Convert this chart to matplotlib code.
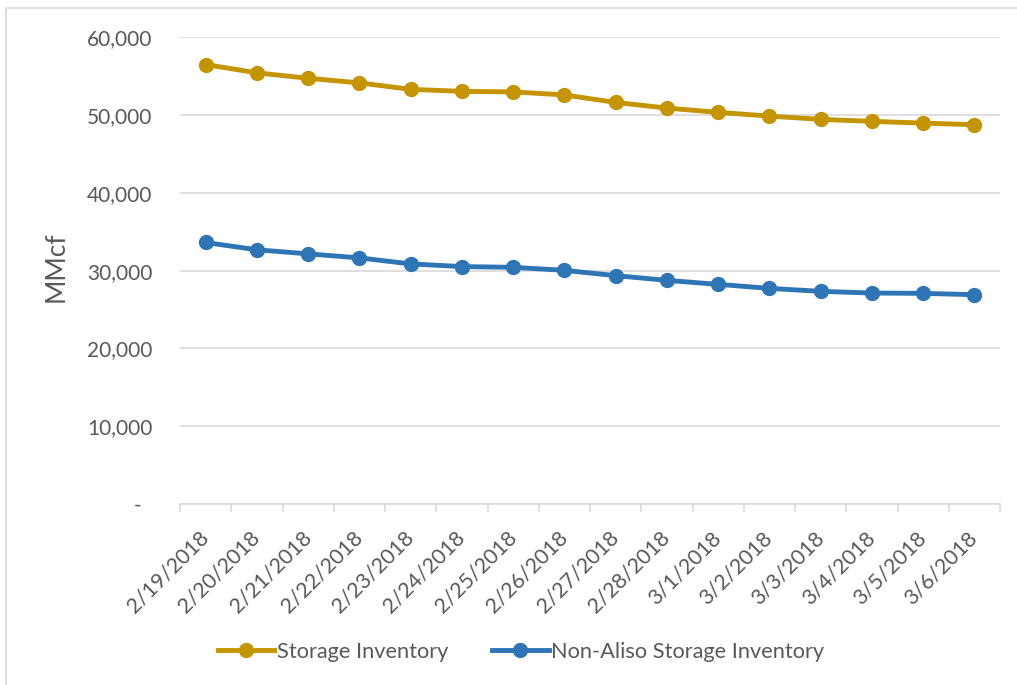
import matplotlib
matplotlib.use("Agg")
import matplotlib.pyplot as plt
from matplotlib.patches import Rectangle
import numpy as np

plt.rcParams['font.family'] = ['Lato', 'DejaVu Sans']

# data
dates = ["2/19/2018", "2/20/2018", "2/21/2018", "2/22/2018", "2/23/2018",
         "2/24/2018", "2/25/2018", "2/26/2018", "2/27/2018", "2/28/2018",
         "3/1/2018", "3/2/2018", "3/3/2018", "3/4/2018", "3/5/2018", "3/6/2018"]
storage = [56500, 55430, 54730, 54140, 53310, 53050, 52980, 52590,
           51630, 50900, 50350, 49870, 49450, 49190, 48970, 48760]
non_aliso = [33620, 32680, 32160, 31640, 30870, 30520, 30430, 30040,
             29360, 28750, 28240, 27720, 27340, 27120, 27080, 26910]
yticks = [0, 10000, 20000, 30000, 40000, 50000, 60000]

gold = '#C49500'
blue = '#2E75B6'
grid_c = '#D9D9D9'
text_c = '#595959'

W, H = 1017, 685
fig = plt.figure(figsize=(W / 100, H / 100), dpi=100)

# light chart border
fig.patches.append(Rectangle((6 / W, -0.1), 1.2, 1 - 8 / H + 0.1,
                             transform=fig.transFigure, fill=False,
                             edgecolor=grid_c, linewidth=1.2))

ax = fig.add_axes([180 / W, 1 - 504 / H, 820 / W, (504 - 37.3) / H])

x = np.arange(len(dates))
ax.plot(x, storage, color=gold, lw=3.5, marker='o', markersize=10,
        label='Storage Inventory', zorder=3)
ax.plot(x, non_aliso, color=blue, lw=3.5, marker='o', markersize=10,
        label='Non-Aliso Storage Inventory', zorder=3)

ax.set_xlim(-0.5, len(dates) - 0.5)
ax.set_ylim(0, 60000)

ax.set_yticks(yticks)
ax.set_yticklabels(['-  '] + [f"{v:,}" for v in yticks[1:]])
ax.yaxis.grid(True, color=grid_c, lw=1.2)
ax.set_axisbelow(True)
ax.tick_params(axis='y', length=0, pad=20, labelsize=15, labelcolor=text_c)

ax.set_xticks(x)
ax.set_xticklabels(dates, rotation=45, ha='right', va='center',
                   rotation_mode='anchor')
ax.set_xticks(np.arange(-0.5, len(dates)), minor=True)
ax.tick_params(axis='x', which='major', length=0, pad=22, labelsize=15.5,
               labelcolor=text_c)
ax.tick_params(axis='x', which='minor', length=6, width=1.2, color=grid_c)

for s in ['left', 'right', 'top']:
    ax.spines[s].set_visible(False)
ax.spines['bottom'].set_color(grid_c)
ax.spines['bottom'].set_linewidth(1.2)

fig.text(56 / W, 1 - 267 / H, 'MMcf', rotation=90, ha='center', va='center',
         fontsize=19, color=text_c)

leg = fig.legend(loc='center', bbox_to_anchor=(521 / W, 1 - 652 / H), ncol=2,
                 frameon=False, fontsize=15.7, handlelength=2.6,
                 handletextpad=0.12, columnspacing=2.0)
for t in leg.get_texts():
    t.set_color(text_c)

fig.savefig('out.png', dpi=100)
